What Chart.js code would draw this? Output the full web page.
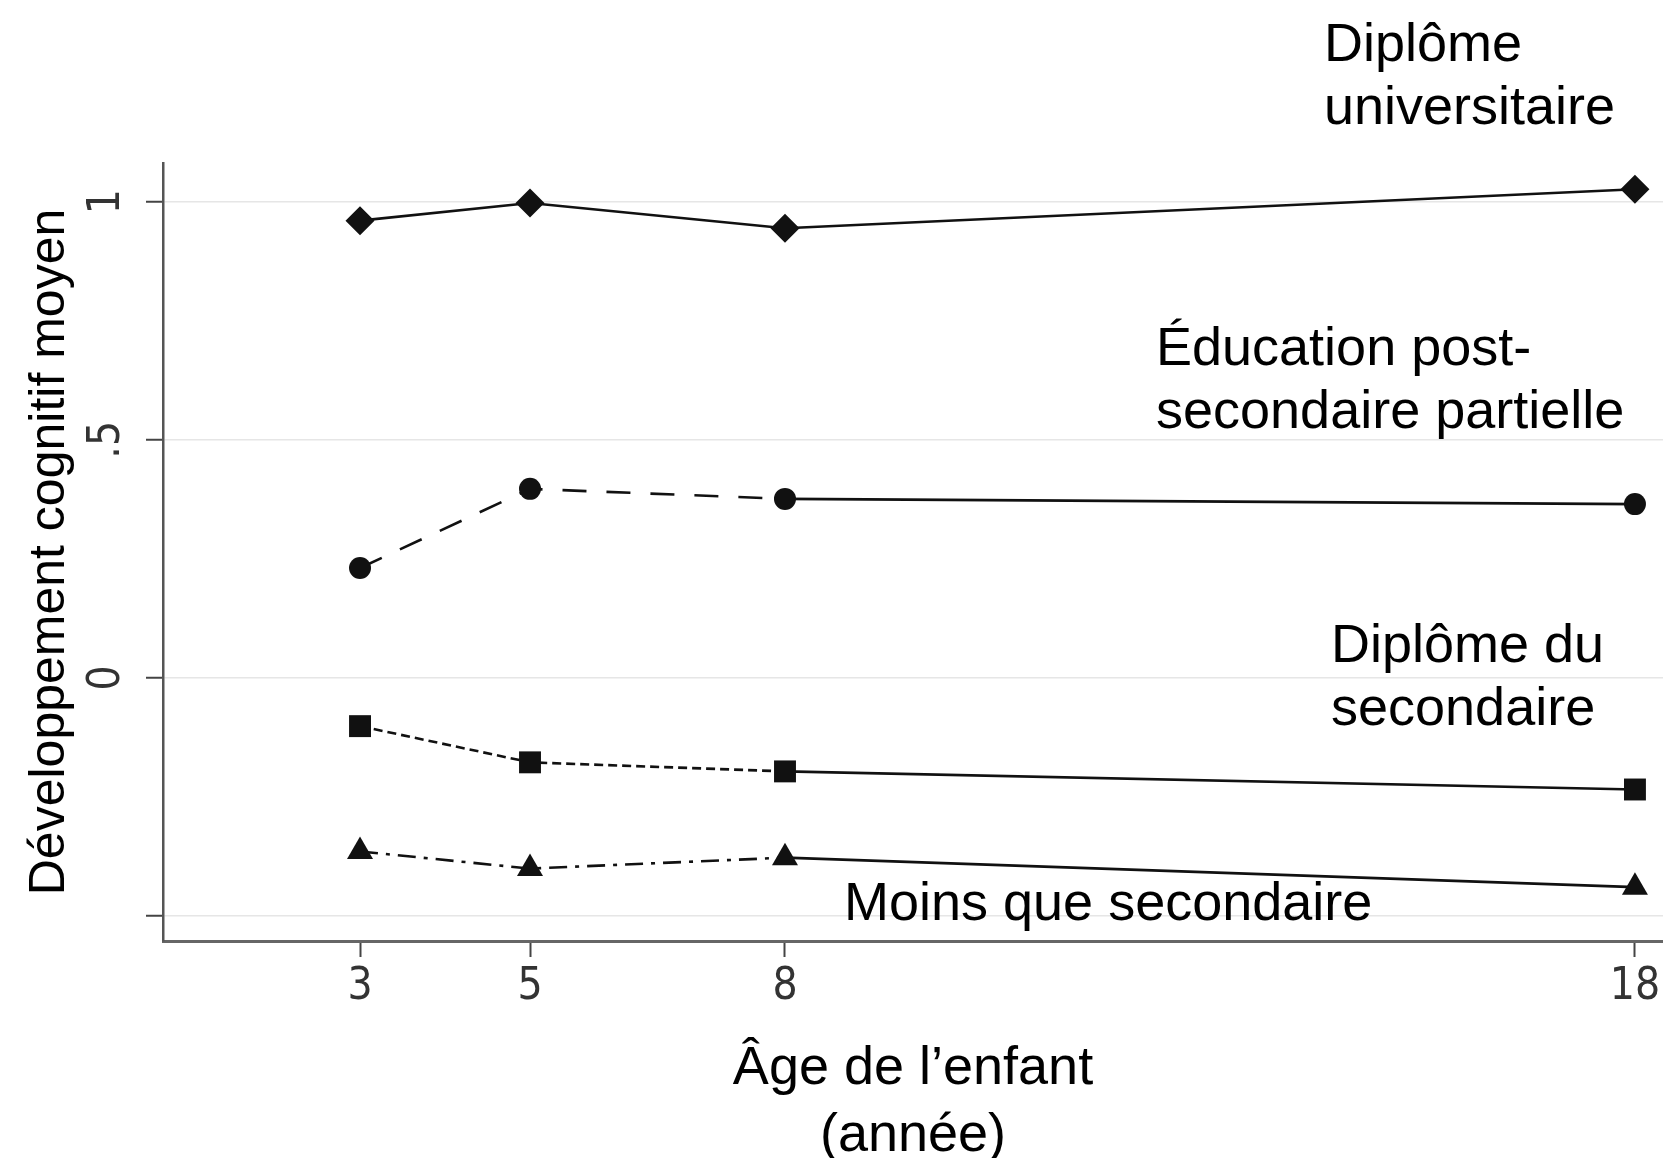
<!DOCTYPE html>
<html>
<head>
<meta charset="utf-8">
<title>Développement cognitif moyen</title>
<script src="https://cdn.jsdelivr.net/npm/chart.js@4.4.1/dist/chart.umd.min.js"></script>
<style>
  html, body { margin: 0; padding: 0; background: #fff; }
  #wrap { width: 1663px; height: 1158px; }
</style>
</head>
<body>
<div id="wrap"><canvas id="cogChart" width="1663" height="1158"></canvas></div>
<script>
const ages = [3, 5, 8, 18];
const universitaire = [0.960, 0.997, 0.944, 1.026];
const postSecondaire = [0.231, 0.397, 0.376, 0.365];
const secondaire = [-0.101, -0.177, -0.196, -0.234];
const moinsSecondaire = [-0.364, -0.400, -0.377, -0.439];

const groupNames = ['Diplôme universitaire', 'Éducation post-secondaire partielle', 'Diplôme du secondaire', 'Moins que secondaire'];
const yTickValues = [-0.5, 0, 0.5, 1];
const yTickLabels = ['', '0', '.5', '1'];
const xTickValues = [3, 5, 8, 18];

const ctx = document.getElementById('cogChart').getContext('2d');

const TEXT_FONT = '"Liberation Sans", Arial, sans-serif';
const TICK_FONT = '"Liberation Sans Narrow", "DejaVu Sans Condensed", "Liberation Sans", sans-serif';

// dashed before age 8, solid after
function dashUntil8(dash) {
  return { borderDash: c => c.p0DataIndex < 2 ? dash : [] };
}

function series(label, values, style, radius, dash) {
  return {
    label: label,
    data: ages.map((a, i) => ({ x: a, y: values[i] })),
    borderColor: '#111',
    backgroundColor: '#111',
    borderWidth: 2.6,
    pointStyle: style,
    pointRadius: radius,
    pointHoverRadius: radius,
    pointBorderWidth: 0,
    pointBackgroundColor: '#111',
    tension: 0,
    clip: false,
    segment: dash ? dashUntil8(dash) : undefined
  };
}

// group labels written beside the lines
const labelPlugin = {
  id: 'groupLabels',
  afterDraw(chart) {
    const c = chart.ctx;
    c.save();
    c.fillStyle = '#000';
    c.font = '54px ' + TEXT_FONT;
    c.textAlign = 'left';
    c.textBaseline = 'alphabetic';
    c.fillText('Diplôme', 1324, 61);
    c.fillText('universitaire', 1324, 124);
    c.fillText('Éducation post-', 1156, 365);
    c.fillText('secondaire partielle', 1156, 428);
    c.fillText('Diplôme du', 1331, 662);
    c.fillText('secondaire', 1331, 725);
    c.fillText('Moins que secondaire', 844, 920);
    c.restore();
  }
};

new Chart(ctx, {
  type: 'line',
  data: {
    datasets: [
      series(groupNames[0], universitaire, 'rectRot', 14.5, null),
      series(groupNames[1], postSecondaire, 'circle', 11, [24, 20]),
      series(groupNames[2], secondaire, 'rect', 15.5, [9, 5]),
      series(groupNames[3], moinsSecondaire, 'triangle', 15, [18, 8, 4, 8])
    ]
  },
  options: {
    responsive: false,
    animation: false,
    layout: { autoPadding: false, padding: { top: 163, right: 0, left: 0, bottom: 0 } },
    plugins: {
      legend: { display: false },
      tooltip: { enabled: false },
      title: { display: false }
    },
    scales: {
      x: {
        type: 'linear',
        min: 0.682,
        max: 18.33,
        afterBuildTicks: s => { s.ticks = xTickValues.map(v => ({ value: v })); },
        afterFit: s => { s.height = 217; s.paddingLeft = 0; s.paddingRight = 0; },
        grid: {
          display: true,
          drawOnChartArea: false,
          drawTicks: true,
          tickLength: 16,
          tickColor: '#444',
          tickWidth: 2
        },
        border: { display: true, color: '#666', width: 3 },
        ticks: {
          padding: 4,
          color: '#333',
          font: { family: TICK_FONT, size: 44 },
          maxRotation: 0,
          autoSkip: false,
          callback: v => String(v)
        },
        title: {
          display: true,
          text: ['Âge de l’enfant', '(année)'],
          color: '#000',
          font: { family: TEXT_FONT, size: 54, lineHeight: 1.24 },
          padding: { top: 0, bottom: -12 }
        }
      },
      y: {
        type: 'linear',
        min: -0.552,
        max: 1.081,
        afterBuildTicks: s => { s.ticks = yTickValues.map(v => ({ value: v })); },
        afterFit: s => { s.width = 163; s.paddingTop = 0; s.paddingBottom = 0; },
        grid: {
          display: true,
          drawOnChartArea: true,
          color: '#e6e6e6',
          lineWidth: 1.5,
          drawTicks: true,
          tickLength: 17,
          tickColor: '#444',
          tickWidth: 2
        },
        border: { display: true, color: '#555', width: 2.5 },
        ticks: {
          padding: 20,
          color: '#333',
          font: { family: TICK_FONT, size: 44 },
          minRotation: 90,
          maxRotation: 90,
          crossAlign: 'center',
          autoSkip: false,
          callback: (v, i) => yTickLabels[i]
        },
        title: {
          display: true,
          text: 'Développement cognitif moyen',
          color: '#000',
          font: { family: TEXT_FONT, size: 50 },
          padding: { top: 20, bottom: 0 }
        }
      }
    }
  },
  plugins: [labelPlugin]
});
</script>
</body>
</html>
